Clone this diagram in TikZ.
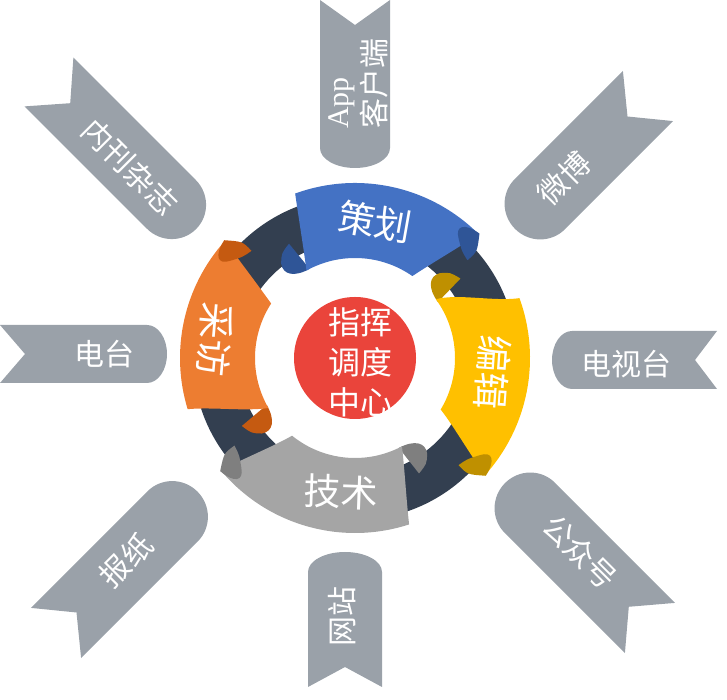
\documentclass[tikz,border=0pt]{standalone}
\usepackage{fontspec}
\newfontfamily\cjk{Noto Sans CJK SC}
\newfontfamily\appfont{Liberation Serif}
\definecolor{Ring}{HTML}{333F50}
\definecolor{Tag}{HTML}{9AA1A9}
\definecolor{Hub}{HTML}{EA443B}
\definecolor{Blue}{HTML}{4472C4}
\definecolor{BlueDark}{HTML}{2F5597}
\definecolor{Gold}{HTML}{FFC000}
\definecolor{GoldDark}{HTML}{BF9000}
\definecolor{Orange}{HTML}{ED7D31}
\definecolor{OrangeDark}{HTML}{C55A11}
\definecolor{Silver}{HTML}{A5A5A5}
\definecolor{SilverDark}{HTML}{7F7F7F}
\tikzset{
 tagtext/.style={text=white,font=\cjk\fontsize{30}{37}\selectfont,inner sep=0pt},
 bandtext/.style={text=white,font=\cjk\fontsize{37}{40}\selectfont,inner sep=0pt},
 hub/.style={circle,fill=Hub,minimum size=122pt,inner sep=0pt},
 hubtext/.style={text=white,font=\cjk\fontsize{32}{40}\selectfont,align=center,inner sep=0pt}
}
\begin{document}
\begin{tikzpicture}[x=1pt,y=1pt]
\useasboundingbox (0,0) rectangle (727,700);
\foreach \px/\py/\ang/\len/\wid/\dep/\rr in {355/700/90/168/70/25/20,648/604/45/188/71/29/35,717/340/0/165/58/22/20,650/72/-45/205/71/30/35,345/13/-90/135/74/20/20,56/67/-135/200/71/29/35,0/346/180/167/58/25/20,49/618/135/208/69/30/35}
 \fill[Tag,shift={(\px,\py)},rotate=\ang] (0,\wid/2) -- (-\dep,0) -- (0,-\wid/2) -- (-\len+\rr,-\wid/2) arc[start angle=-90,end angle=-270,x radius=\rr,y radius=\wid/2] -- cycle;
\node[tagtext,rotate=90,align=left] (app) at (358,616) {{\appfont App}\\客户端};
\node[tagtext,rotate=45] (weibo) at (564,522) {微博};
\node[tagtext] (tv) at (626,336) {电视台};
\node[tagtext,rotate=-45] (wechat) at (580,148) {公众号};
\node[tagtext,rotate=90] (web) at (342,83) {网站};
\node[tagtext,rotate=45] (paper) at (126,140) {报纸};
\node[tagtext] (radio) at (104,346) {电台};
\node[tagtext,rotate=-45] (mag) at (130,533) {内刊杂志};
\begin{scope}[shift={(355,342)}]
\fill[Ring,even odd rule] (0,0) circle[radius=162] (0,0) circle[radius=117];
\foreach \oa/\ob/\ia/\ib/\main/\fold in {45/110/55/119/Blue/BlueDark,-42/20/-31/36/Gold/GoldDark,-140/-72/-129/-62/Silver/SilverDark,138/197/147/210/Orange/OrangeDark}{
 \fill[\fold] (\ib-2:100) .. controls (\ib+8:101) and (\ib+12:110) .. (\ib+9:120) .. controls (\ib+6:128) .. (\ib+1:132) -- cycle;
 \fill[\main] (\oa:175) arc[start angle=\oa,end angle=\ob,radius=175] .. controls (\ob+2:150) and (\ib-4:122) .. (\ib:100) arc[start angle=\ib,end angle=\ia,radius=100] .. controls (\ia-4:122) and (\oa+2:150) .. (\oa:175) -- cycle;
 \fill[\fold] (\oa:176) .. controls (\oa+6:174) and (\oa+8:166) .. (\oa+4:158) .. controls (\oa:151) .. (\oa-4:149) .. controls (\oa-4:162) .. (\oa:176) -- cycle;
}
\end{scope}
\node[bandtext,rotate=-10] (plan) at (375,478) {策划};
\node[bandtext,rotate=-94] (edit) at (493,328) {编辑};
\node[bandtext,rotate=-2] (tech) at (341,208) {技术};
\node[bandtext,rotate=-95] (interview) at (215,360) {采访};
\node[hub,path picture={\node[hubtext] (hubtext) at ([xshift=5pt,yshift=-4pt]path picture bounding box.center) {指挥\\调度\\中心};}] (hub) at (355,342) {};
\end{tikzpicture}
\end{document}
